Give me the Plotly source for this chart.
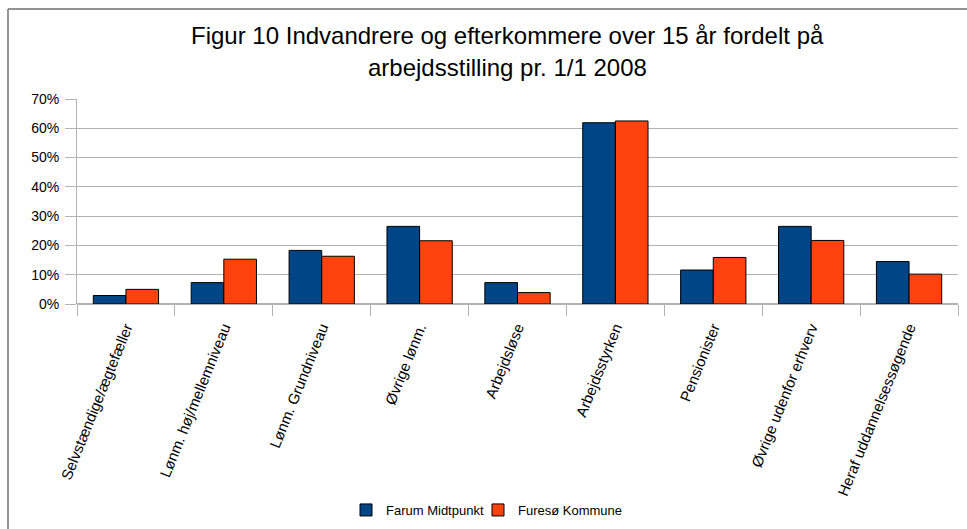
import plotly.graph_objects as go

categories = [
    "Selvstændige/ægtefæller",
    "Lønm. høj/mellemniveau",
    "Lønm. Grundniveau",
    "Øvrige lønm.",
    "Arbejdsløse",
    "Arbejdsstyrken",
    "Pensionister",
    "Øvrige udenfor erhverv",
    "Heraf uddannelsessøgende",
]
farum_midtpunkt = [2.9, 7.3, 18.3, 26.5, 7.3, 61.9, 11.6, 26.5, 14.5]
furesoe_kommune = [5.0, 15.3, 16.3, 21.6, 3.9, 62.5, 15.9, 21.7, 10.2]
y_ticks = [0, 10, 20, 30, 40, 50, 60, 70]
y_tick_labels = [f"{v}%" for v in y_ticks]

title_line1 = "Figur 10 Indvandrere og efterkommere over 15 år fordelt på"
title_line2 = "arbejdsstilling pr. 1/1 2008"

W, H = 967, 529
ML, MR, MT, MB = 77, 9, 99, 225
PW, PH = W - ML - MR, H - MT - MB

def px_x(x):
    return (x - ML) / PW

def px_y(y):
    return (H - MB - y) / PH

FONT = "Liberation Sans, Arial, sans-serif"

fig = go.Figure()
fig.add_trace(go.Bar(
    x=categories, y=farum_midtpunkt, name="Farum Midtpunkt",
    marker=dict(color="#004586", line=dict(color="#000000", width=1)),
    legend="legend",
))
fig.add_trace(go.Bar(
    x=categories, y=furesoe_kommune, name="Furesø Kommune",
    marker=dict(color="#ff420e", line=dict(color="#000000", width=1)),
    legend="legend2",
))

legend_common = dict(orientation="h", yanchor="middle", xanchor="left",
                     y=px_y(510), font=dict(size=13, family=FONT),
                     itemwidth=30, bgcolor="rgba(0,0,0,0)")

fig.update_layout(
    width=W, height=H,
    margin=dict(l=ML, r=MR, t=MT, b=MB, pad=0, autoexpand=False),
    paper_bgcolor="white", plot_bgcolor="white",
    font=dict(family=FONT, size=13, color="#000000"),
    barmode="group", bargap=0.333, bargroupgap=0,
    showlegend=True,
    legend=dict(x=px_x(346), **legend_common),
    legend2=dict(x=px_x(478), **legend_common),
    xaxis=dict(
        type="category", tickangle=-68, automargin=False,
        ticks="outside", tickson="boundaries", ticklen=11,
        tickcolor="#b3b3b3", tickwidth=1,
        showgrid=False, showline=False,
        tickfont=dict(size=15, family=FONT),
        ticklabelstandoff=11,
    ),
    yaxis=dict(
        range=[0, 70], tickvals=y_ticks, ticktext=y_tick_labels,
        automargin=False,
        ticks="outside", ticklen=11, tickcolor="#b3b3b3",
        showgrid=True, gridcolor="#b3b3b3", gridwidth=1,
        showline=True, linecolor="#b3b3b3", linewidth=1,
        zeroline=True, zerolinecolor="#b3b3b3",
        tickfont=dict(size=14, family=FONT),
        ticklabelstandoff=3,
    ),
    annotations=[
        dict(text=title_line1, xref="paper", yref="paper",
             x=px_x(507), y=px_y(36), xanchor="center", yanchor="middle",
             showarrow=False, font=dict(size=24, family=FONT)),
        dict(text=title_line2, xref="paper", yref="paper",
             x=px_x(507), y=px_y(67), xanchor="center", yanchor="middle",
             showarrow=False, font=dict(size=24, family=FONT)),
    ],
    shapes=[
        dict(type="line", xref="paper", yref="paper",
             x0=px_x(8), x1=px_x(970), y0=px_y(9), y1=px_y(9),
             line=dict(color="#707070", width=1.5)),
        dict(type="line", xref="paper", yref="paper",
             x0=px_x(8), x1=px_x(8), y0=px_y(9), y1=px_y(532),
             line=dict(color="#707070", width=1.5)),
    ],
)

fig.write_html(
    "out.html",
    config={"displayModeBar": False},
    post_script="document.body.style.margin='0';document.body.style.overflow='hidden';",
)
